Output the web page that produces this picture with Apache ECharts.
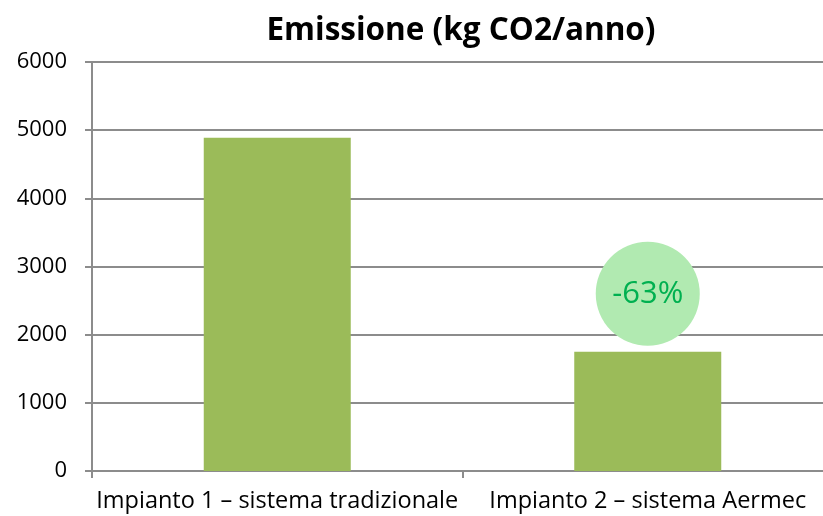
<!DOCTYPE html>
<html>
<head>
<meta charset="utf-8">
<script src="https://cdn.jsdelivr.net/npm/echarts@6/dist/echarts.min.js"></script>
<style>
  html, body { margin: 0; padding: 0; background: #fff; }
  #chart { width: 823px; height: 516px; }
</style>
</head>
<body>
<div id="chart"></div>
<script>
// dati del grafico
const categories = ['Impianto 1 – sistema tradizionale', 'Impianto 2 – sistema Aermec'];
const emissions = [4890, 1750];
const yTicks = [0, 1000, 2000, 3000, 4000, 5000, 6000];
// annotazione "-63%" sopra la seconda barra
const badgeLabel = '-63%';
const badgeCategory = categories[1];
const badgeValue = 2600;

const font = '"Open Sans", sans-serif';
const gridGray = '#8c8c8c';

const chart = echarts.init(document.getElementById('chart'));

const option = {
  animation: false,
  title: {
    text: 'Emissione (kg CO2/anno)',
    left: 456,
    top: 10,
    textAlign: 'center',
    textStyle: { fontFamily: font, fontSize: 31.5, fontWeight: 'bold', color: '#000' }
  },
  grid: { left: 92, top: 62, width: 741, bottom: 45, containLabel: false, outerBoundsMode: 'none' },
  xAxis: {
    type: 'category',
    data: categories,
    axisLine: { lineStyle: { color: gridGray, width: 2 } },
    axisTick: { show: true, length: 7, lineStyle: { color: gridGray, width: 2 } },
    axisLabel: { fontFamily: font, fontSize: 23.5, color: '#000', margin: 18, interval: 0 }
  },
  yAxis: {
    type: 'value',
    min: yTicks[0],
    max: yTicks[yTicks.length - 1],
    interval: 1000,
    axisLine: { show: true, lineStyle: { color: gridGray, width: 2 } },
    axisTick: { show: true, length: 7, lineStyle: { color: gridGray, width: 2 } },
    splitLine: { lineStyle: { color: gridGray, width: 2 } },
    axisLabel: { fontFamily: font, fontSize: 22, color: '#000', margin: 25, formatter: v => String(v) }
  },
  series: [{
    type: 'bar',
    data: emissions,
    barWidth: 147,
    itemStyle: { color: '#9bbb59' },
    markPoint: {
      symbol: 'circle',
      symbolSize: 104,
      itemStyle: { color: '#b1eab1' },
      label: {
        show: true,
        formatter: badgeLabel,
        fontFamily: font,
        fontSize: 31,
        color: '#00b050'
      },
      data: [{ coord: [badgeCategory, badgeValue] }]
    }
  }]
};

chart.setOption(option);
</script>
</body>
</html>
